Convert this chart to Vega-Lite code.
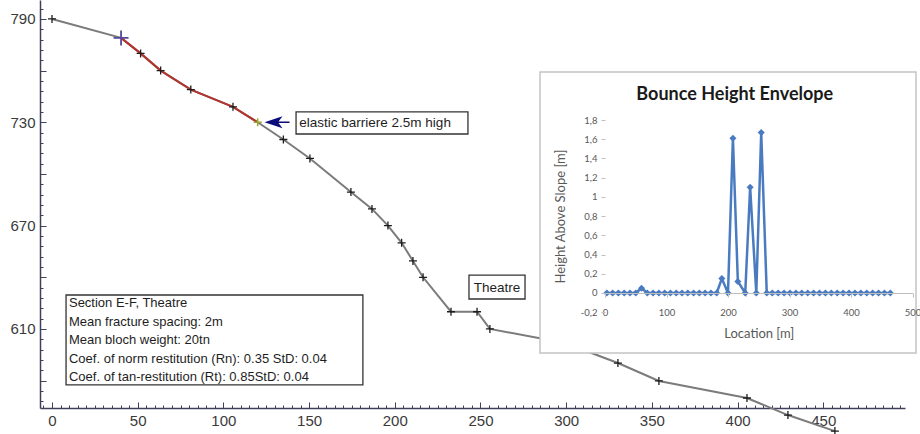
{
  "$schema": "https://vega.github.io/schema/vega-lite/v6.json",
  "width": 865,
  "height": 408,
  "autosize": "none",
  "padding": {"left": 40, "top": 0, "right": 15, "bottom": 26},
  "background": "white",
  "config": {
    "view": {"stroke": null},
    "font": "Liberation Sans"
  },
  "datasets": {
    "profile": [
      {"x": 0, "y": 790},
      {"x": 40.3, "y": 779},
      {"x": 51.7, "y": 770},
      {"x": 63.4, "y": 760},
      {"x": 81, "y": 749},
      {"x": 105.6, "y": 739},
      {"x": 120, "y": 730},
      {"x": 135, "y": 720},
      {"x": 150.5, "y": 709},
      {"x": 174.4, "y": 689.5},
      {"x": 186.7, "y": 679.7},
      {"x": 196, "y": 670},
      {"x": 204, "y": 660},
      {"x": 210.6, "y": 649.5},
      {"x": 216.5, "y": 640},
      {"x": 232.8, "y": 620},
      {"x": 248, "y": 620},
      {"x": 255.5, "y": 610},
      {"x": 299.3, "y": 601.8},
      {"x": 330.2, "y": 590.2},
      {"x": 354.1, "y": 579.8},
      {"x": 405.5, "y": 569.9},
      {"x": 429.4, "y": 560},
      {"x": 456.8, "y": 550.7}
    ],
    "bounce": [
      {"loc": 3, "h": 0}, {"loc": 12.4, "h": 0}, {"loc": 21.8, "h": 0}, {"loc": 31.2, "h": 0},
      {"loc": 40.6, "h": 0}, {"loc": 50, "h": 0}, {"loc": 59.4, "h": 0.05}, {"loc": 68.8, "h": 0},
      {"loc": 78.2, "h": 0}, {"loc": 87.6, "h": 0}, {"loc": 97, "h": 0}, {"loc": 106.4, "h": 0},
      {"loc": 115.8, "h": 0}, {"loc": 125.2, "h": 0}, {"loc": 134.6, "h": 0}, {"loc": 144, "h": 0},
      {"loc": 153.4, "h": 0}, {"loc": 162.8, "h": 0}, {"loc": 172.2, "h": 0}, {"loc": 181.6, "h": 0},
      {"loc": 190, "h": 0.15}, {"loc": 200, "h": 0}, {"loc": 208, "h": 1.61}, {"loc": 216, "h": 0.12},
      {"loc": 228, "h": 0}, {"loc": 236, "h": 1.1}, {"loc": 246, "h": 0}, {"loc": 254, "h": 1.67},
      {"loc": 263, "h": 0}, {"loc": 272, "h": 0}, {"loc": 281.6, "h": 0}, {"loc": 291.2, "h": 0},
      {"loc": 300.8, "h": 0}, {"loc": 310.4, "h": 0}, {"loc": 320, "h": 0}, {"loc": 329.6, "h": 0},
      {"loc": 339.2, "h": 0}, {"loc": 348.8, "h": 0}, {"loc": 358.4, "h": 0}, {"loc": 368, "h": 0},
      {"loc": 377.6, "h": 0}, {"loc": 387.2, "h": 0}, {"loc": 396.8, "h": 0}, {"loc": 406.4, "h": 0},
      {"loc": 416, "h": 0}, {"loc": 425.6, "h": 0}, {"loc": 435.2, "h": 0}, {"loc": 444.8, "h": 0},
      {"loc": 454.4, "h": 0}, {"loc": 464, "h": 0}
    ],
    "notes": [
      {"x": 9.9, "y": 625.1, "text": "Section E-F, Theatre"},
      {"x": 9.9, "y": 614.0, "text": "Mean fracture spacing: 2m"},
      {"x": 9.9, "y": 603.6, "text": "Mean bloch weight: 20tn"},
      {"x": 9.9, "y": 592.6, "text": "Coef. of norm restitution (Rn): 0.35 StD: 0.04"},
      {"x": 9.9, "y": 582.1, "text": "Coef. of tan-restitution (Rt): 0.85StD: 0.04"}
    ],
    "boxes": [
      {"x": 8.2, "x2": 181.4, "y": 629.7, "y2": 577.5},
      {"x": 142.4, "x2": 242.7, "y": 736.0, "y2": 723.2},
      {"x": 243.3, "x2": 276.0, "y": 641.3, "y2": 627.4}
    ],
    "barrierLabel": [{"x": 144.3, "y": 729.6, "text": "elastic barriere 2.5m high"}],
    "theatreLabel": [{"x": 259.6, "y": 634.0, "text": "Theatre"}],
    "barrier": [{"x": 131.3, "y": 730}],
    "frame": [{"loc": -105.7, "loc2": 505.7, "h": 2.30, "h2": -0.624}],
    "insetTitle": [{"loc": 211, "h": 2.06, "text": "Bounce Height Envelope"}]
  },
  "layer": [
    {
      "layer": [
        {
          "data": {"name": "profile"},
          "mark": {"type": "line", "color": "#7b7b7b", "strokeWidth": 2},
          "encoding": {
            "x": {
              "field": "x", "type": "quantitative", "title": null,
              "scale": {"domain": [-7, 497.7], "nice": false, "zero": false},
              "axis": {
                "title": null,
                "tickCount": 500,
                "values": [-5,0,5,10,15,20,25,30,35,40,45,50,55,60,65,70,75,80,85,90,95,100,105,110,115,120,125,130,135,140,145,150,155,160,165,170,175,180,185,190,195,200,205,210,215,220,225,230,235,240,245,250,255,260,265,270,275,280,285,290,295,300,305,310,315,320,325,330,335,340,345,350,355,360,365,370,375,380,385,390,395,400,405,410,415,420,425,430,435,440,445,450,455,460,465,470,475,480,485,490,495],
                "labelExpr": "datum.value % 50 === 0 && datum.value >= 0 ? format(datum.value, 'd') : ''",
                "labelOverlap": false,
                "labelFlush": false,
                "labelFont": "Liberation Sans",
                "labelFontSize": 15,
                "labelColor": "#3a3a3a",
                "labelPadding": 11.5,
                "domainColor": "#40405c",
                "domainWidth": 1.5,
                "tickColor": "#40405c",
                "tickWidth": 1,
                "tickSize": {"condition": {"test": "datum.value % 50 === 0", "value": -6}, "value": -3},
                "grid": false
              }
            },
            "y": {
              "field": "y", "type": "quantitative", "title": null,
              "scale": {"domain": [564.1, 801], "nice": false, "zero": false},
              "axis": {
                "title": null,
                "tickCount": 500,
                "values": [568,574,580,586,592,598,604,610,616,622,628,634,640,646,652,658,664,670,676,682,688,694,700,706,712,718,724,730,736,742,748,754,760,766,772,778,784,790,796],
                "labelExpr": "datum.value % 60 === 10 ? format(datum.value, 'd') : ''",
                "labelOverlap": false,
                "labelFlush": false,
                "labelFont": "Liberation Sans",
                "labelFontSize": 15,
                "labelColor": "#3a3a3a",
                "labelPadding": 11,
                "domainColor": "#40405c",
                "domainWidth": 1.5,
                "tickColor": "#40405c",
                "tickWidth": 1,
                "tickSize": {"condition": {"test": "datum.value % 30 === 10", "value": -6}, "value": -3},
                "grid": false
              }
            }
          }
        },
        {
          "data": {"name": "profile"},
          "transform": [{"filter": "datum.x >= 40 && datum.x <= 121"}],
          "mark": {"type": "line", "color": "#b3342f", "strokeWidth": 2},
          "encoding": {
            "x": {"field": "x", "type": "quantitative", "title": null},
            "y": {"field": "y", "type": "quantitative", "title": null}
          }
        },
        {
          "data": {"name": "profile"},
          "transform": [{"filter": "datum.x > 41 && datum.x < 119 || datum.x < 1 || datum.x > 121"}],
          "mark": {"type": "point", "shape": "M-1,0L1,0M0,-1L0,1", "size": 64, "stroke": "#1e1e1e", "strokeWidth": 1.3, "filled": false, "opacity": 1},
          "encoding": {
            "x": {"field": "x", "type": "quantitative", "title": null},
            "y": {"field": "y", "type": "quantitative", "title": null}
          }
        },
        {
          "data": {"name": "profile"},
          "transform": [{"filter": "datum.x > 40 && datum.x < 41"}],
          "mark": {"type": "point", "shape": "M-1,0L1,0M0,-1L0,1", "size": 225, "stroke": "#54489c", "strokeWidth": 1.8, "filled": false, "opacity": 1},
          "encoding": {
            "x": {"field": "x", "type": "quantitative", "title": null},
            "y": {"field": "y", "type": "quantitative", "title": null}
          }
        },
        {
          "data": {"name": "profile"},
          "transform": [{"filter": "datum.x > 119 && datum.x < 121"}],
          "mark": {"type": "point", "shape": "M-1,0L1,0M0,-1L0,1", "size": 64, "stroke": "#9aa82c", "strokeWidth": 1.5, "filled": false, "opacity": 1},
          "encoding": {
            "x": {"field": "x", "type": "quantitative", "title": null},
            "y": {"field": "y", "type": "quantitative", "title": null}
          }
        },
        {
          "data": {"name": "barrier"},
          "mark": {"type": "point", "shape": "M-1,0L0.44,-0.48L0.12,-0.06L1,-0.06L1,0.06L0.12,0.06L0.44,0.48Z", "size": 625, "filled": true, "fill": "#0b0b7a", "strokeWidth": 0, "opacity": 1},
          "encoding": {
            "x": {"field": "x", "type": "quantitative", "title": null},
            "y": {"field": "y", "type": "quantitative", "title": null}
          }
        },
        {
          "data": {"name": "boxes"},
          "mark": {"type": "rect", "fill": "white", "stroke": "#333333", "strokeWidth": 1.3},
          "encoding": {
            "x": {"field": "x", "type": "quantitative", "title": null},
            "x2": {"field": "x2"},
            "y": {"field": "y", "type": "quantitative", "title": null},
            "y2": {"field": "y2"}
          }
        },
        {
          "data": {"name": "notes"},
          "mark": {"type": "text", "align": "left", "baseline": "middle", "font": "Liberation Sans", "fontSize": 13, "color": "#1e1e1e"},
          "encoding": {
            "x": {"field": "x", "type": "quantitative", "title": null},
            "y": {"field": "y", "type": "quantitative", "title": null},
            "text": {"field": "text"}
          }
        },
        {
          "data": {"name": "barrierLabel"},
          "mark": {"type": "text", "align": "left", "baseline": "middle", "font": "Liberation Sans", "fontSize": 13.5, "color": "#1e1e1e"},
          "encoding": {
            "x": {"field": "x", "type": "quantitative", "title": null},
            "y": {"field": "y", "type": "quantitative", "title": null},
            "text": {"field": "text"}
          }
        },
        {
          "data": {"name": "theatreLabel"},
          "mark": {"type": "text", "align": "center", "baseline": "middle", "font": "Liberation Sans", "fontSize": 13.5, "color": "#1e1e1e"},
          "encoding": {
            "x": {"field": "x", "type": "quantitative", "title": null},
            "y": {"field": "y", "type": "quantitative", "title": null},
            "text": {"field": "text"}
          }
        }
      ]
    },
    {
      "layer": [
        {
          "data": {"name": "frame"},
          "mark": {"type": "rect", "fill": "white", "stroke": "#c4c4c4", "strokeWidth": 1.5},
          "encoding": {
            "x": {
              "field": "loc", "type": "quantitative", "title": "Location [m]",
              "scale": {"domain": [0, 500], "range": [565, 872.5], "nice": false, "zero": false},
              "axis": {
                "orient": "bottom",
                "offset": -115,
                "zindex": 2,
                "tickCount": 50,
                "titleFont": "Lato",
                "titleFontSize": 13,
                "titleFontWeight": "normal",
                "titleColor": "#595959",
                "titlePadding": 11,
                "values": [0, 100, 200, 300, 400, 500],
                "labelFont": "Lato",
                "labelFontSize": 9.5,
                "labelColor": "#595959",
                "labelPadding": 10,
                "labelFlush": false,
                "labelOverlap": false,
                "domainColor": "#bfbfbf",
                "domainWidth": 1.2,
                "tickColor": "#bfbfbf",
                "tickSize": 4,
                "grid": false
              }
            },
            "x2": {"field": "loc2"},
            "y": {
              "field": "h", "type": "quantitative", "title": "Height Above Slope [m]",
              "scale": {"domain": [-0.2, 1.8], "range": [312.2, 120], "nice": false, "zero": false},
              "axis": {
                "orient": "left",
                "offset": -565,
                "zindex": 2,
                "tickCount": 50,
                "titleFont": "Lato",
                "titleFontSize": 13,
                "titleFontWeight": "normal",
                "titleColor": "#595959",
                "titlePadding": 13,
                "values": [-0.2, 0, 0.2, 0.4, 0.6, 0.8, 1, 1.2, 1.4, 1.6, 1.8],
                "labelExpr": "(datum.value < 0 ? '-' : '') + replace(format(abs(datum.value), '.1~f'), '.', ',')",
                "labelFont": "Lato",
                "labelFontSize": 9.5,
                "labelColor": "#595959",
                "labelPadding": 4,
                "labelFlush": false,
                "labelOverlap": false,
                "domain": false,
                "tickColor": "#bfbfbf",
                "tickSize": 4,
                "grid": false
              }
            },
            "y2": {"field": "h2"}
          }
        },
        {
          "data": {"name": "insetTitle"},
          "mark": {"type": "text", "align": "center", "baseline": "middle", "font": "Lato", "fontSize": 18, "fontWeight": "bold", "color": "#1a1a1a"},
          "encoding": {
            "x": {"field": "loc", "type": "quantitative", "title": "Location [m]"},
            "y": {"field": "h", "type": "quantitative", "title": "Height Above Slope [m]"},
            "text": {"field": "text"}
          }
        },
        {
          "data": {"name": "bounce"},
          "mark": {"type": "line", "color": "#4a7bc0", "strokeWidth": 2.5, "point": {"shape": "diamond", "size": 50, "filled": true, "color": "#4a7bc0", "opacity": 1}},
          "encoding": {
            "x": {"field": "loc", "type": "quantitative", "title": "Location [m]"},
            "y": {"field": "h", "type": "quantitative", "title": "Height Above Slope [m]"}
          }
        }
      ]
    }
  ],
  "resolve": {"scale": {"x": "independent", "y": "independent"}}
}
